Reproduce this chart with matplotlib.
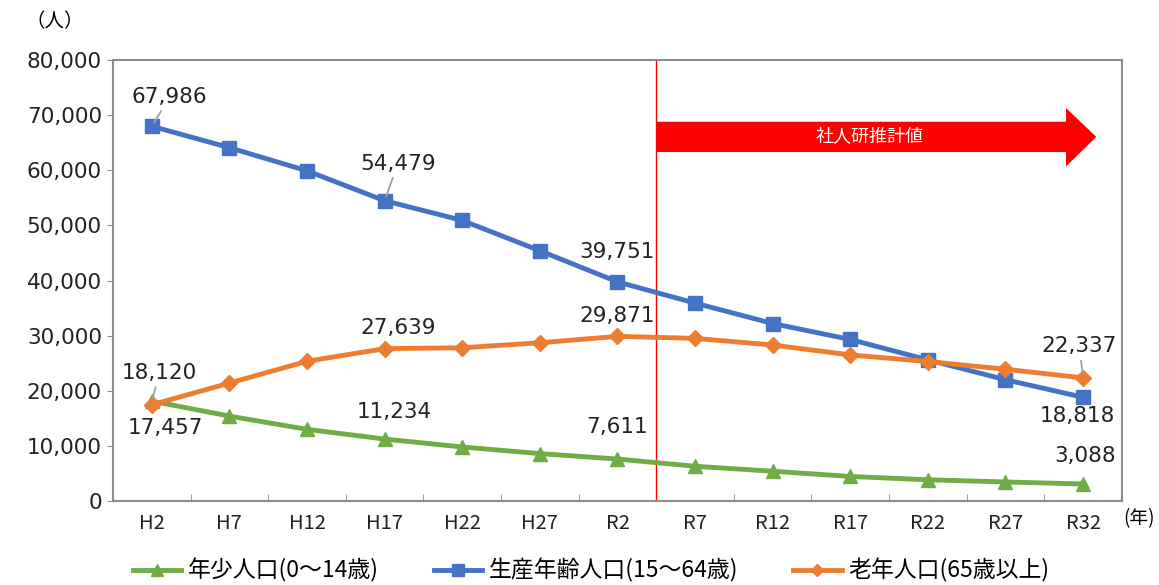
import matplotlib
matplotlib.use("Agg")
import matplotlib.pyplot as plt
from matplotlib.patches import Polygon

plt.rcParams['font.family'] = ['Noto Sans CJK JP', 'DejaVu Sans']

years = ['H2', 'H7', 'H12', 'H17', 'H22', 'H27', 'R2',
         'R7', 'R12', 'R17', 'R22', 'R27', 'R32']
young = [18120, 15400, 13000, 11234, 9800, 8600, 7611,
         6300, 5400, 4450, 3850, 3450, 3088]
working = [67986, 64100, 59900, 54479, 50900, 45400, 39751,
           35900, 32200, 29300, 25600, 22000, 18818]
elderly = [17457, 21400, 25350, 27639, 27800, 28700, 29871,
           29500, 28300, 26500, 25300, 23900, 22337]

labels = ['年少人口(0～14歳)', '生産年齢人口(15～64歳)', '老年人口(65歳以上)']
colors = ['#70AD47', '#4472C4', '#ED7D31']
num_font = 'DejaVu Sans'

fig = plt.figure(figsize=(11.59, 5.85), dpi=100)
ax = fig.add_axes([0.0975, 0.1436, 0.8705, 0.7538])

x = list(range(len(years)))
ax.plot(x, young, color=colors[0], lw=3.5, marker='^', ms=10, label=labels[0], zorder=3)
ax.plot(x, working, color=colors[1], lw=3.5, marker='s', ms=10, label=labels[1], zorder=3)
ax.plot(x, elderly, color=colors[2], lw=3.5, marker='D', ms=8, label=labels[2], zorder=4)

ax.set_xlim(-0.5, len(years) - 0.5)
ax.set_ylim(0, 80000)
ax.set_yticks(range(0, 80001, 10000))
ax.set_yticklabels([f'{v:,}' for v in range(0, 80001, 10000)], fontsize=15.5,
                   family=num_font, color='#222222')
ax.set_xticks(x)
ax.set_xticklabels(years, fontsize=14.5, color='#222222')
ax.set_xticks([i + 0.5 for i in x[:-1]], minor=True)
ax.tick_params(axis='x', which='major', length=0, pad=9)
ax.tick_params(axis='x', which='minor', length=5, direction='in', color='#8c8c8c')
ax.tick_params(axis='y', length=4, direction='out', color='#8c8c8c', pad=4)
for s in ax.spines.values():
    s.set_color('#8c8c8c')
    s.set_linewidth(1.5)

# projection divider and arrow
ax.axvline(6.5, color='red', lw=1, zorder=2)
arrow = Polygon([(6.5, 68800), (11.78, 68800), (11.78, 71300), (12.17, 66050),
                 (11.78, 60700), (11.78, 63300), (6.5, 63300)],
                closed=True, facecolor='red', edgecolor='none', zorder=2)
ax.add_patch(arrow)
ax.text(9.25, 66050, '社人研推計値', color='white', fontsize=13, ha='center', va='center')

# data labels
def lab(i, vals, dx, dy, leader=False):
    v = vals[i]
    ax.annotate(f'{v:,}', xy=(i, v), xytext=(i + dx, v + dy), fontsize=15.5,
                family=num_font, ha='center', va='center', color='#222222',
                arrowprops=dict(arrowstyle='-', color='#a0a0a0', lw=1.3,
                                shrinkA=1, shrinkB=3) if leader else None,
                zorder=5)

lab(0, working, 0.23, 5300, True)
lab(3, working, 0.17, 6700, True)
lab(6, working, 0.0, 5500)
lab(3, elderly, 0.17, 3800)
lab(6, elderly, 0.0, 3700)
lab(0, young, 0.1, 5100, True)
lab(0, elderly, 0.17, -4300)
lab(3, young, 0.13, 4900)
lab(6, young, 0.0, 5800)
lab(12, elderly, -0.05, 5700, True)
lab(12, working, -0.07, -3400)
lab(12, young, 0.03, 5000)

fig.text(0.047, 0.963, '（人）', fontsize=14, ha='center', va='center')
fig.text(0.983, 0.114, '(年)', fontsize=13.5, ha='center', va='center')

ax.legend(loc='center', bbox_to_anchor=(0.474, -0.158), ncol=3, frameon=False,
          fontsize=16.5, handlelength=2.1, columnspacing=2.4, handletextpad=0.3,
          markerscale=0.8)

fig.savefig('out.png', dpi=100)
